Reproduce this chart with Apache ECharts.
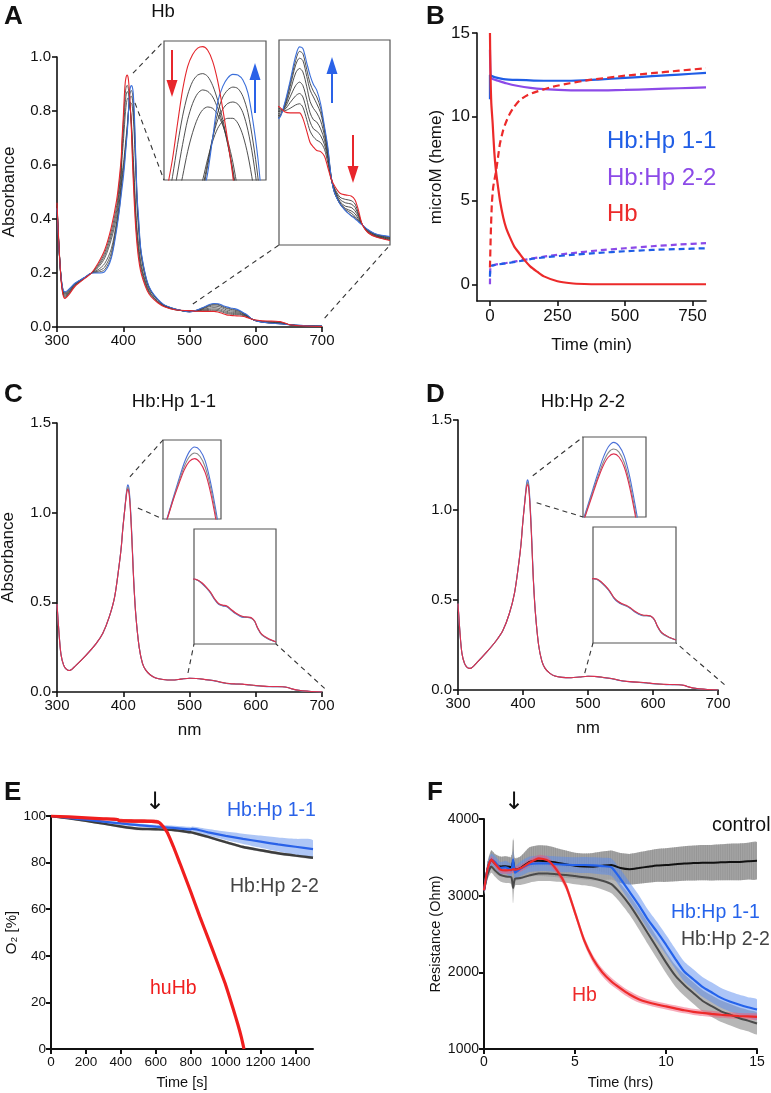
<!DOCTYPE html>
<html><head><meta charset="utf-8">
<script src="https://cdn.jsdelivr.net/npm/echarts@6.0.0/dist/echarts.min.js"></script>
<style>html,body{margin:0;padding:0;background:#fff}#c{width:771px;height:1093px}</style>
</head><body><div id="c"></div>
<script>
// ---------- Panel A: Hb spectra (nm, absorbance) ----------
const wlA = [300,303,306,309,312,318,327,342,352,362,372,382,390,394,397,
398,399,400,401,402,403,404,405,406,407,408,409,410,411,412,413,414,415,416,417,418,419,
421,423,426,430,436,442,452,462,480,
500,510,520,530,537,543,550,556,562,568,575,582,588,594,600,610,620,630,637,643,650,660,675,700];
const absA_red = [0.46,0.30,0.18,0.12,0.106,0.12,0.15,0.18,0.20,0.236,0.285,0.37,0.47,0.55,0.63,
0.69,0.735,0.775,0.825,0.872,0.905,0.922,0.931,0.933,0.928,0.912,0.884,0.845,0.80,0.75,0.68,0.61,0.55,0.495,0.445,0.40,0.36,
0.30,0.255,0.21,0.174,0.135,0.112,0.09,0.075,0.063,
0.0607,0.0585,0.058,0.058,0.058,0.0556,0.050,0.045,0.043,0.0415,0.041,0.039,0.034,0.029,0.026,0.0227,0.022,0.0215,0.0198,0.0154,0.009,0.0055,0.0035,0.002];
const absA_g1 = [0.457,0.298,0.182,0.123,0.109,0.123,0.152,0.181,0.20,0.23,0.275,0.355,0.45,0.53,0.61,
0.67,0.71,0.75,0.795,0.835,0.865,0.884,0.893,0.895,0.891,0.878,0.857,0.83,0.795,0.755,0.70,0.635,0.575,0.525,0.475,0.425,0.38,
0.32,0.275,0.222,0.183,0.141,0.116,0.092,0.076,0.063,
0.0600,0.0590,0.0600,0.0615,0.062,0.0605,0.055,0.050,0.0475,0.046,0.045,0.042,0.036,0.029,0.025,0.021,0.020,0.0195,0.018,0.014,0.009,0.0055,0.0036,0.0022];
const absA_g2 = [0.455,0.297,0.183,0.126,0.113,0.126,0.154,0.182,0.20,0.225,0.265,0.34,0.43,0.51,0.585,
0.645,0.68,0.715,0.755,0.795,0.83,0.853,0.867,0.872,0.870,0.862,0.846,0.824,0.795,0.76,0.715,0.66,0.605,0.555,0.505,0.45,0.40,
0.34,0.29,0.235,0.192,0.147,0.12,0.094,0.077,0.064,
0.0592,0.0595,0.0625,0.0655,0.0665,0.065,0.059,0.054,0.051,0.050,0.048,0.044,0.038,0.029,0.0245,0.020,0.0185,0.018,0.0165,0.0132,0.009,0.0058,0.0038,0.0025];
const absA_g3 = [0.452,0.296,0.185,0.129,0.117,0.129,0.156,0.183,0.20,0.22,0.255,0.325,0.41,0.49,0.56,
0.62,0.65,0.68,0.715,0.75,0.785,0.812,0.832,0.844,0.848,0.846,0.837,0.822,0.80,0.77,0.73,0.685,0.635,0.585,0.535,0.48,0.43,
0.36,0.31,0.248,0.2,0.152,0.123,0.096,0.078,0.064,
0.0585,0.060,0.065,0.070,0.0715,0.070,0.064,0.058,0.055,0.054,0.051,0.046,0.039,0.0295,0.024,0.019,0.017,0.0165,0.015,0.0125,0.009,0.006,0.004,0.0028];
const absA_g4 = [0.449,0.294,0.186,0.132,0.121,0.132,0.158,0.183,0.20,0.212,0.235,0.29,0.39,0.46,0.535,
0.56,0.58,0.60,0.62,0.645,0.67,0.695,0.72,0.745,0.775,0.80,0.818,0.828,0.832,0.832,0.825,0.808,0.78,0.74,0.69,0.63,0.57,
0.44,0.37,0.28,0.22,0.162,0.13,0.1,0.08,0.065,
0.0575,0.0605,0.0675,0.0755,0.0775,0.076,0.0695,0.063,0.060,0.058,0.0545,0.048,0.040,0.0295,0.0235,0.0185,0.016,0.015,0.0137,0.0115,0.0089,0.0063,0.0043,0.003];
const absA_g5 = [0.446,0.293,0.188,0.135,0.124,0.135,0.16,0.184,0.20,0.207,0.222,0.275,0.38,0.445,0.52,
0.545,0.565,0.585,0.605,0.63,0.655,0.68,0.71,0.735,0.77,0.805,0.83,0.845,0.853,0.855,0.852,0.84,0.815,0.777,0.725,0.66,0.595,
0.46,0.385,0.29,0.228,0.165,0.132,0.101,0.081,0.065,
0.0567,0.061,0.0695,0.079,0.082,0.081,0.074,0.068,0.065,0.062,0.058,0.050,0.041,0.030,0.023,0.018,0.0155,0.014,0.0125,0.0108,0.0088,0.0065,0.0045,0.0033];
const absA_g6 = [0.443,0.292,0.189,0.138,0.127,0.138,0.161,0.184,0.20,0.203,0.212,0.262,0.37,0.435,0.505,
0.53,0.55,0.57,0.59,0.615,0.645,0.672,0.70,0.728,0.765,0.805,0.84,0.862,0.872,0.876,0.874,0.863,0.84,0.80,0.748,0.68,0.61,
0.47,0.395,0.295,0.232,0.168,0.134,0.102,0.081,0.066,
0.056,0.0615,0.071,0.081,0.085,0.084,0.077,0.071,0.0675,0.065,0.060,0.051,0.042,0.030,0.023,0.018,0.015,0.013,0.012,0.0105,0.0088,0.0067,0.0047,0.0035];
const absA_blue = [0.44,0.29,0.19,0.14,0.13,0.14,0.162,0.184,0.20,0.20,0.205,0.255,0.36,0.43,0.49,
0.51,0.53,0.55,0.575,0.60,0.63,0.66,0.69,0.72,0.755,0.805,0.855,0.877,0.889,0.894,0.893,0.886,0.868,0.828,0.775,0.70,0.62,
0.48,0.41,0.30,0.235,0.17,0.135,0.103,0.082,0.066,
0.0556,0.062,0.072,0.083,0.087,0.0863,0.080,0.0745,0.0705,0.068,0.062,0.052,0.043,0.030,0.023,0.018,0.015,0.0128,0.0115,0.0102,0.0088,0.0068,0.0048,0.0037];
const ticksA_x = [300,400,500,600,700];
const ticksA_y = [0,0.2,0.4,0.6,0.8,1.0];

// ---------- Panel B: kinetics (min, microM heme) ----------
const tB_hp11 = [0,0,5,20,50,100,200,300,400,500,600,700,800];
const vB_hp11 = [11.05,12.5,12.45,12.35,12.25,12.2,12.15,12.15,12.22,12.32,12.42,12.52,12.62];
const tB_hp22 = [0,3,10,30,60,100,150,200,300,400,500,600,700,800];
const vB_hp22 = [14.0,12.35,12.25,12.15,12.0,11.85,11.72,11.65,11.58,11.57,11.6,11.65,11.7,11.75];
const tB_hb = [0,2,5,10,16,22,30,37,49,60,74,90,111,125,150,175,200,250,300,350,400,500,600,700,800];
const vB_hb = [15,12.5,10.8,9.6,7.9,6.8,5.8,5.0,4.0,3.35,2.8,2.25,1.8,1.5,1.05,0.75,0.47,0.18,0.06,0.015,0,0,0,0,0];
const tB_hbD = [0,3,7,12,22,30,37,49,60,74,90,111,140,173,235,296,370,500,600,700,800];
const vB_hbD = [1.0,3.0,4.8,5.8,6.7,7.6,8.4,9.2,9.7,10.2,10.6,11.0,11.3,11.5,11.8,12.0,12.2,12.45,12.6,12.75,12.9];
const tB_dash = [0,2,10,30,60,100,150,200,300,400,500,600,700,800];
const vB_hp11D = [0.45,1.1,1.12,1.18,1.25,1.35,1.5,1.6,1.75,1.87,1.97,2.05,2.1,2.15];
const vB_hp22D = [0.0,1.1,1.13,1.2,1.27,1.38,1.52,1.65,1.85,2.02,2.15,2.27,2.37,2.45];
const ticksB_x = [0,250,500,750];
const ticksB_y = [0,5,10,15];

// ---------- Panels C / D: Hb:Hp spectra ----------
const wlC = [300,303,306,310,314,319,329,344,359,369,379,387,394,397,399,
400,401,402,403,404,405,406,407,408,409,410,411,412,413,414,
416,419,424,429,434,441,449,460,474,487,
500,510,520,530,540,550,560,570,580,590,600,610,620,630,640,648,655,665,680,700];
const absC_blue = [0.49,0.33,0.21,0.15,0.128,0.12,0.15,0.206,0.27,0.326,0.42,0.53,0.715,0.81,0.9,
0.937,0.974,1.01,1.048,1.085,1.12,1.145,1.155,1.148,1.125,1.08,1.02,0.95,0.87,0.78,
0.61,0.43,0.25,0.16,0.122,0.095,0.078,0.07,0.067,0.072,
0.077,0.075,0.071,0.066,0.060,0.052,0.046,0.044,0.043,0.039,0.035,0.032,0.030,0.030,0.029,0.025,0.017,0.009,0.004,0.0];
const absC_grey = [0.49,0.33,0.21,0.15,0.128,0.12,0.15,0.206,0.27,0.326,0.42,0.53,0.713,0.808,0.897,
0.936,0.973,1.008,1.045,1.08,1.112,1.134,1.142,1.135,1.112,1.069,1.01,0.94,0.86,0.772,
0.605,0.428,0.25,0.16,0.122,0.095,0.078,0.07,0.067,0.072,
0.077,0.075,0.0715,0.0665,0.0605,0.0525,0.0465,0.0445,0.0435,0.0395,0.0355,0.0325,0.0305,0.030,0.029,0.025,0.017,0.009,0.004,0.0];
const absC_red = [0.49,0.33,0.21,0.15,0.128,0.12,0.15,0.206,0.27,0.326,0.42,0.53,0.712,0.806,0.895,
0.935,0.972,1.007,1.043,1.075,1.105,1.124,1.13,1.122,1.1,1.058,1.0,0.93,0.85,0.765,
0.6,0.425,0.25,0.16,0.122,0.095,0.078,0.07,0.067,0.072,
0.077,0.0755,0.072,0.067,0.061,0.053,0.047,0.045,0.044,0.040,0.036,0.033,0.031,0.0305,0.0295,0.0255,0.0175,0.0095,0.0045,0.0];
const absD_blue = [0.48,0.32,0.205,0.148,0.126,0.12,0.152,0.21,0.275,0.33,0.425,0.54,0.72,0.815,0.905,
0.945,0.985,1.022,1.06,1.098,1.133,1.158,1.168,1.16,1.137,1.092,1.03,0.96,0.88,0.79,
0.615,0.435,0.25,0.16,0.12,0.094,0.078,0.07,0.068,0.072,
0.076,0.075,0.071,0.066,0.060,0.052,0.047,0.044,0.042,0.039,0.035,0.032,0.030,0.030,0.029,0.025,0.017,0.009,0.004,0.0];
const absD_grey = [0.48,0.32,0.205,0.148,0.126,0.12,0.152,0.21,0.275,0.33,0.425,0.54,0.718,0.812,0.902,
0.943,0.982,1.018,1.055,1.09,1.122,1.145,1.153,1.146,1.122,1.078,1.017,0.948,0.868,0.78,
0.61,0.432,0.25,0.16,0.12,0.094,0.078,0.07,0.068,0.072,
0.076,0.075,0.0715,0.0665,0.0605,0.0525,0.0475,0.0445,0.0425,0.0395,0.0355,0.0325,0.0305,0.030,0.029,0.025,0.017,0.009,0.004,0.0];
const absD_red = [0.48,0.32,0.205,0.148,0.126,0.12,0.152,0.21,0.275,0.33,0.425,0.54,0.716,0.81,0.9,
0.942,0.98,1.015,1.05,1.085,1.115,1.135,1.142,1.135,1.112,1.068,1.008,0.938,0.858,0.772,
0.605,0.43,0.25,0.16,0.12,0.094,0.078,0.07,0.068,0.072,
0.076,0.0755,0.072,0.067,0.061,0.053,0.048,0.045,0.043,0.040,0.036,0.033,0.031,0.0305,0.0295,0.0255,0.0175,0.0095,0.0045,0.0];
const ticksCD_y = [0,0.5,1.0,1.5];

// ---------- Panel E: O2 consumption (s, %) ----------
const tE = [0,100,200,300,400,500,600,700,800,810,900,1000,1100,1200,1300,1400,1500];
const o2E_hp11 = [100,99.2,98.4,97.6,96.8,96.1,95.4,94.9,94.3,94.5,93.0,91.5,90.2,89.0,87.8,86.8,85.8];
const o2E_hp11Sd = [0.2,0.3,0.4,0.5,0.6,0.7,0.8,0.9,1.0,1.0,1.4,1.8,2.2,2.6,3.0,3.4,3.8];
const o2E_hp22 = [100,99.0,97.9,96.7,95.5,94.5,94.3,94.0,93.0,92.9,91.0,88.8,86.7,85.3,84.0,83.0,82.1];
const o2E_hp22Sd = [0.3,0.4,0.5,0.5,0.6,0.6,0.6,0.6,0.6,0.6,0.6,0.6,0.6,0.6,0.6,0.6,0.6];
const tE_hb = [0,100,200,300,380,390,500,600,620,643,665,681,700,738,800,852,900,947,1000,1042,1070,1090,1105];
const o2E_hb = [100,99.6,99.2,98.8,98.5,98.0,97.8,97.6,97.2,95.4,93.0,90.4,87.0,79.7,67.5,56.8,47.5,38.2,27.5,17.5,10.5,5.0,0];
const o2E_hbSd = [0.2,0.3,0.3,0.4,0.6,0.8,0.8,0.8,0.8,0.7,0.6,0.6,0.6,0.6,0.6,0.6,0.6,0.6,0.6,0.6,0.6,0.6,0.4];
const ticksE_x = [0,200,400,600,800,1000,1200,1400];
const ticksE_y = [0,20,40,60,80,100];

// ---------- Panel F: resistance (hrs, Ohm) ----------
const tF = [0,0.2,0.4,0.6,0.9,1.2,1.5,1.6,1.7,2.0,2.5,3.0,3.5,4.0,4.5,5.0,5.5,6.0,6.5,7.0,7.5,8.0,8.5,9.0,9.5,10.0,10.5,11.0,11.5,12.0,12.5,13.0,13.5,14.0,14.5,15.0];
const rF_control = [3070,3350,3470,3420,3380,3385,3370,3450,3340,3360,3440,3456,3450,3430,3410,3390,3380,3378,3390,3400,3360,3345,3360,3378,3395,3400,3410,3420,3425,3430,3430,3435,3440,3440,3450,3456];
const rF_controlSd = [50,100,120,125,130,130,135,300,150,150,190,200,200,190,180,170,170,180,185,190,195,200,205,210,215,220,222,225,228,230,232,235,238,240,240,240];
const rF_hp11 = [3070,3350,3470,3440,3360,3370,3330,3470,3300,3350,3410,3420,3420,3410,3405,3400,3400,3395,3385,3370,3220,3050,2880,2690,2530,2360,2180,2010,1910,1810,1740,1670,1620,1580,1545,1515];
const rF_hp11Sd = [40,70,80,80,80,85,90,120,90,95,100,100,100,100,100,100,105,105,110,115,120,125,130,130,130,130,130,130,130,130,130,130,130,130,130,130];
const rF_hp22 = [3070,3280,3380,3330,3270,3250,3240,3100,3220,3230,3265,3290,3290,3280,3270,3255,3240,3225,3195,3150,3030,2880,2700,2510,2320,2130,1960,1835,1730,1630,1560,1495,1450,1405,1370,1333];
const rF_hp22Sd = [40,70,80,80,85,85,90,200,90,90,95,100,100,100,100,105,105,110,115,120,125,130,135,140,140,140,140,140,140,140,140,140,140,140,140,140];
const rF_hb = [3070,3350,3470,3420,3340,3330,3335,3345,3340,3356,3430,3487,3460,3334,3130,2780,2420,2170,2000,1880,1790,1710,1650,1610,1580,1555,1530,1505,1485,1470,1458,1447,1438,1430,1425,1420];
const rF_hbSd = [30,40,45,45,45,45,45,45,45,45,45,45,45,50,50,50,50,50,50,50,45,45,45,40,40,40,40,40,40,40,40,40,40,40,40,40];
const ticksF_x = [0,5,10,15];
const ticksF_y = [1000,2000,3000,4000];

// ================= chart =================
const FONT = "'Liberation Sans', Arial, Helvetica, sans-serif";
const FONTN = "'Liberation Sans Narrow', 'Liberation Sans', Arial, sans-serif";
const chart = echarts.init(document.getElementById('c'), null, {renderer:'canvas', width:771, height:1093});
const pairs = (xs, ys) => xs.map((x, i) => [x, ys[i]]);
const plain = v => String(v);

function axis(o) {
  return {
    gridIndex:o.g, type:'value', min:o.min, max:o.max,
    name:o.name || '', nameLocation:'middle', nameGap:o.nameGap || 30,
    nameTextStyle:{fontFamily:FONT, fontSize:o.nameSize || 17, color:'#111'},
    axisLine:{show:true, onZero:false, lineStyle:{color:'#111', width:o.lw || 1.6}},
    axisTick:{show:true, inside:false, length:o.tl || 5, customValues:o.ticks, lineStyle:{color:'#111', width:o.lw || 1.6}},
    axisLabel:{show:true, customValues:o.ticks, formatter:o.fmt || plain, fontFamily:o.ff || FONT, fontSize:o.fs || 15, color:'#111', margin:o.margin || 6},
    splitLine:{show:false}
  };
}
function hidden(g, min, max) {
  return {gridIndex:g, type:'value', min:min, max:max, show:false, splitLine:{show:false}};
}
const inset = {show:true, borderColor:'#555', borderWidth:1.2, backgroundColor:'rgba(0,0,0,0)', outerBoundsMode:'none'};
const grids = [
  {left:57, top:57, width:265, height:270, outerBoundsMode:'none'},
  Object.assign({left:164, top:41, width:102, height:139}, inset),
  Object.assign({left:279, top:40, width:111, height:205}, inset),
  {left:477, top:33, width:229, height:268, outerBoundsMode:'none'},
  {left:57, top:423, width:265, height:269, outerBoundsMode:'none'},
  Object.assign({left:163, top:440, width:58, height:79}, inset),
  Object.assign({left:194, top:529, width:82, height:115}, inset),
  {left:458, top:420, width:260, height:270, outerBoundsMode:'none'},
  Object.assign({left:583, top:437, width:63, height:80}, inset),
  Object.assign({left:593, top:527, width:83, height:116}, inset),
  {left:51, top:816, width:262, height:233, outerBoundsMode:'none'},
  {left:484, top:819, width:273, height:230, outerBoundsMode:'none'}
];
const f1 = v => v.toFixed(1);
const xAxes = [
  axis({g:0, min:300, max:700, ticks:ticksA_x}),
  hidden(1, 398.3, 418.6), hidden(2, 500, 700),
  axis({g:3, min:-48, max:800, ticks:ticksB_x, fs:17, margin:7, name:'Time (min)', nameGap:36}),
  axis({g:4, min:300, max:700, ticks:ticksA_x, name:'nm', nameGap:30}),
  hidden(5, 401, 412), hidden(6, 500, 700),
  axis({g:7, min:300, max:700, ticks:ticksA_x, name:'nm', nameGap:30}),
  hidden(8, 401.2, 413.1), hidden(9, 500, 700),
  axis({g:10, min:0, max:1500, ticks:ticksE_x, ff:FONTN, fs:13.5, margin:6, lw:2, name:'Time [s]', nameSize:14.5, nameGap:26}),
  axis({g:11, min:0, max:15, ticks:ticksF_x, ff:FONTN, fs:14, margin:6, lw:2, name:'Time (hrs)', nameSize:14.5, nameGap:26})
];
const yAxes = [
  axis({g:0, min:0, max:1, ticks:ticksA_y, fmt:f1, name:'Absorbance', nameGap:39}),
  hidden(1, 0.745, 0.941), hidden(2, 0, 0.09),
  axis({g:3, min:-1, max:15, ticks:ticksB_y, fs:17, margin:7, name:'microM (heme)', nameGap:32}),
  axis({g:4, min:0, max:1.5, ticks:ticksCD_y, fmt:f1, name:'Absorbance', nameGap:40}),
  hidden(5, 1.0, 1.17), hidden(6, -0.0025, 0.138),
  axis({g:7, min:0, max:1.5, ticks:ticksCD_y, fmt:f1}),
  hidden(8, 1.0, 1.18), hidden(9, -0.0037, 0.14),
  axis({g:10, min:0, max:100, ticks:ticksE_y, ff:FONTN, fs:13.5, margin:5, lw:2, name:'O\u2082 [%]', nameSize:15, nameGap:30}),
  axis({g:11, min:1000, max:4000, ticks:ticksF_y, ff:FONTN, fs:14, margin:5, lw:2, name:'Resistance (Ohm)', nameSize:14.5, nameGap:36})
];

const series = [];
function line(g, xs, ys, color, width, extra) {
  series.push(Object.assign({type:'line', xAxisIndex:g, yAxisIndex:g, data:pairs(xs, ys), symbol:'none', showSymbol:false,
    smooth:0.3, silent:true, animation:false, clip:true, lineStyle:{color:color, width:width}, z:3}, extra || {}));
}
// shaded +/- band drawn through the axes' scales
function band(g, xs, mean, sd, color, hatch) {
  series.push({type:'custom', xAxisIndex:g, yAxisIndex:g, silent:true, animation:false, z:2, clip:true,
    data:[[xs[0], mean[0]]],
    renderItem:function (params, api) {
      const up = xs.map((x, i) => api.coord([x, mean[i] + sd[i]]));
      const lo = xs.map((x, i) => api.coord([x, mean[i] - sd[i]])).reverse();
      const children = [{type:'polygon', shape:{points:up.concat(lo), smooth:0.25}, style:{fill:color}}];
      if (hatch) {
        const x0 = xs[0], x1 = xs[xs.length - 1];
        for (let k = 0; k < 150; k++) {
          const tx = x0 + (x1 - x0) * k / 149;
          let j = 0; while (j < xs.length - 2 && xs[j + 1] < tx) j++;
          const f = (tx - xs[j]) / (xs[j + 1] - xs[j]);
          const m = mean[j] + (mean[j + 1] - mean[j]) * f, s = sd[j] + (sd[j + 1] - sd[j]) * f;
          const a = api.coord([tx, m + s]), b = api.coord([tx, m - s]);
          children.push({type:'line', shape:{x1:a[0], y1:a[1], x2:b[0], y2:b[1]}, style:{stroke:hatch, lineWidth:0.6}});
        }
      }
      return {type:'group', children:children};
    }});
}

const RED_A = '#e4262c', BLUE_A = '#3b6fda', GREY_A = '#3c3c3c';
[0, 1, 2].forEach(g => {
  const w = g === 0 ? 0.8 : 0.9;
  [absA_g1, absA_g2, absA_g3, absA_g4, absA_g5, absA_g6].forEach(a => line(g, wlA, a, GREY_A, w));
  line(g, wlA, absA_blue, BLUE_A, 1.1);
  line(g, wlA, absA_red, RED_A, 1.1);
});
const BLUE_B = '#1f5de6', PURP_B = '#8c4ae8', RED_B = '#ec2a2a';
line(3, tB_dash, vB_hp22D, PURP_B, 2.2, {smooth:0.2, lineStyle:{color:PURP_B, width:2.2, type:[6,4]}});
line(3, tB_dash, vB_hp11D, BLUE_B, 2.2, {smooth:0.2, lineStyle:{color:BLUE_B, width:2.2, type:[6,4]}});
line(3, tB_hp22, vB_hp22, PURP_B, 2.2, {smooth:0.2});
line(3, tB_hp11, vB_hp11, BLUE_B, 2.2, {smooth:0.2});
line(3, tB_hbD, vB_hbD, RED_B, 2.2, {smooth:0.2, lineStyle:{color:RED_B, width:2.2, type:[7,4]}});
line(3, tB_hb, vB_hb, RED_B, 2.2, {smooth:0.2});
const BLUE_C = '#4a6fd8', GREY_C = '#8a8a8a', RED_C = '#dc2f4f';
[4, 5, 6].forEach(g => {
  line(g, wlC, absC_blue, BLUE_C, 1.1);
  line(g, wlC, absC_grey, GREY_C, 1.1);
  line(g, wlC, absC_red, RED_C, 1.1);
});
[7, 8, 9].forEach(g => {
  line(g, wlC, absD_blue, BLUE_C, 1.1);
  line(g, wlC, absD_grey, GREY_C, 1.1);
  line(g, wlC, absD_red, RED_C, 1.1);
});
band(10, tE, o2E_hp22, o2E_hp22Sd, '#c4c4c4');
band(10, tE, o2E_hp11, o2E_hp11Sd, 'rgba(120,160,240,0.6)');
band(10, tE_hb, o2E_hb, o2E_hbSd, '#f56a6a');
line(10, tE, o2E_hp22, '#3d3d3d', 2.4, {smooth:0.2});
line(10, tE, o2E_hp11, '#2a62e8', 2.2, {smooth:0.2});
line(10, tE_hb, o2E_hb, '#f01e1e', 3.2, {smooth:0.15});
band(11, tF, rF_control, rF_controlSd, '#a8a8a8', '#8a8a8a');
band(11, tF, rF_hp22, rF_hp22Sd, 'rgba(165,165,165,0.8)');
band(11, tF, rF_hp11, rF_hp11Sd, 'rgba(90,140,240,0.5)');
band(11, tF, rF_hb, rF_hbSd, 'rgba(240,90,120,0.5)');
line(11, tF, rF_control, '#111', 2, {smooth:0.2});
line(11, tF, rF_hp22, '#4a4a4a', 2, {smooth:0.2});
line(11, tF, rF_hp11, '#2563eb', 2.2, {smooth:0.2});
line(11, tF, rF_hb, '#ee2a2a', 2.2, {smooth:0.2});

chart.setOption({
  backgroundColor:'#ffffff', animation:false,
  textStyle:{fontFamily:FONT},
  grid:grids, xAxis:xAxes, yAxis:yAxes, series:series
});

const P = (g, x, y) => chart.convertToPixel({gridIndex:g}, [x, y]);
const G = [];
function txt(x, y, s, size, color, opts) {
  opts = opts || {};
  G.push({type:'text', x:x, y:y, z:50, silent:true, style:{text:s, fill:color || '#111',
    font:(opts.bold ? 'bold ' : '') + size + 'px ' + (opts.font || FONT),
    textAlign:opts.align || 'left', textVerticalAlign:opts.va || 'middle', align:opts.align || 'left', verticalAlign:opts.va || 'middle'}});
}
function dash(a, b) {
  G.push({type:'line', z:40, silent:true, shape:{x1:a[0], y1:a[1], x2:b[0], y2:b[1]}, style:{stroke:'#333', lineWidth:1.1, lineDash:[5,4]}});
}
function arrow(x, y0, y1, color) {
  const dir = y1 > y0 ? 1 : -1;
  const hb = y1 - dir * 17;
  G.push({type:'line', z:40, silent:true, shape:{x1:x, y1:y0, x2:x, y2:hb}, style:{stroke:color, lineWidth:2}});
  G.push({type:'polygon', z:40, silent:true, shape:{points:[[x - 5.5, hb], [x + 5.5, hb], [x, y1]]}, style:{fill:color}});
}
txt(4, 17, 'A', 26, '#111', {bold:true});
txt(426, 17, 'B', 26, '#111', {bold:true});
txt(4, 395, 'C', 26, '#111', {bold:true});
txt(426, 395, 'D', 26, '#111', {bold:true});
txt(4, 793, 'E', 26, '#111', {bold:true});
txt(427, 793, 'F', 26, '#111', {bold:true});
txt(163, 12, 'Hb', 18.5, '#111', {align:'center'});
txt(174, 402, 'Hb:Hp 1-1', 18.5, '#111', {align:'center'});
txt(583, 402, 'Hb:Hp 2-2', 18.5, '#111', {align:'center'});
txt(607, 141, 'Hb:Hp 1-1', 24, BLUE_B);
txt(607, 178, 'Hb:Hp 2-2', 24, PURP_B);
txt(607, 214, 'Hb', 24, RED_B);
txt(227, 811, 'Hb:Hp 1-1', 19.5, '#2a62e8');
txt(230, 887, 'Hb:Hp 2-2', 19.5, '#444');
txt(150, 989, 'huHb', 19.5, '#f01e1e');
txt(155, 803, '\u2193', 24, '#111', {align:'center', font:"'DejaVu Sans', sans-serif"});
txt(712, 826, 'control', 19.5, '#111');
txt(671, 913, 'Hb:Hp 1-1', 19.5, '#2563eb');
txt(681, 940, 'Hb:Hp 2-2', 19.5, '#444');
txt(572, 996, 'Hb', 19.5, '#ee2a2a');
txt(514, 803, '\u2193', 24, '#111', {align:'center', font:"'DejaVu Sans', sans-serif"});
dash(P(0, 414.7, 0.94), P(1, 398.3, 0.941));
dash(P(0, 417.7, 0.83), P(1, 398.3, 0.745));
dash(P(0, 505, 0.085), P(2, 500, 0));
dash(P(0, 704, 0.033), P(2, 700, 0));
dash(P(4, 410, 1.2), P(5, 401, 1.17));
dash(P(4, 422, 1.026), P(5, 401, 1.0));
dash(P(4, 497.7, 0.106), P(6, 500, -0.0025));
dash(P(4, 704, 0.02), P(6, 700, -0.0025));
dash(P(7, 415, 1.19), P(8, 401.2, 1.18));
dash(P(7, 421, 1.04), P(8, 401.2, 1.0));
dash(P(7, 495, 0.094), P(9, 500, -0.0037));
dash(P(7, 710, 0.03), P(9, 700, -0.0037));
arrow(172, 50, 97, '#e8262c');
arrow(255, 113, 63, '#2a62e8');
arrow(332, 103, 57, '#2a62e8');
arrow(353, 135, 183, '#e8262c');
chart.setOption({graphic:{elements:G}});
</script></body></html>
